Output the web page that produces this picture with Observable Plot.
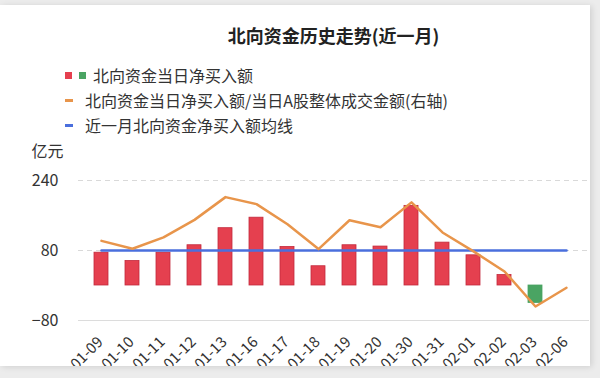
<!DOCTYPE html>
<html>
<head>
<meta charset="utf-8">
<script src="https://cdn.jsdelivr.net/npm/d3@7"></script>
<script src="https://cdn.jsdelivr.net/npm/@observablehq/plot@0.6"></script>
<style>
  html, body { margin: 0; padding: 0; width: 600px; height: 378px; overflow: hidden; background: #ececec; }
  body { font-family: "Noto Sans CJK SC", "Noto Sans", sans-serif; }
  #card { position: absolute; left: 0; top: 5px; width: 590px; height: 361px; background: #fff; overflow: hidden; box-shadow: 2px 1px 6px rgba(0,0,0,0.12); }
  #title { position: absolute; left: 78px; width: 511px; top: 16px; text-align: center; font-size: 18px; font-weight: bold; color: #222; line-height: 28px; }
  .lg { position: absolute; left: 0; height: 22px; line-height: 22px; font-size: 16px; color: #333; white-space: nowrap; }
  .sq { position: absolute; width: 7px; height: 7px; top: 8px; }
  .ln { position: absolute; width: 8px; height: 3px; top: 10px; left: 65px; }
  .tx { position: absolute; top: 0; }
  #chart { position: absolute; left: 0; top: 135px; }
</style>
</head>
<body>
<div id="card">
  <div id="title"></div>
  <div id="legend"></div>
  <div id="chart"></div>
</div>
<script>
// ---- data ----
const dates = ["01-09","01-10","01-11","01-12","01-13","01-16","01-17","01-18","01-19","01-20","01-30","01-31","02-01","02-02","02-03","02-06"];
// 北向资金当日净买入额 (亿元); 02-06 has no bar
const netBuy = [75, 56, 75, 92, 131, 155, 88, 44, 92, 89, 182, 98, 69, 24, -40, null];
// 北向资金当日净买入额/当日A股整体成交金额 (%, right axis, hidden; 6% aligns with 240)
const ratioPct = [2.55, 2.10, 2.75, 3.75, 5.05, 4.65, 3.50, 2.08, 3.73, 3.33, 4.75, 3.03, 1.95, 0.80, -1.20, -0.13];
const rightAxisFactor = 40; // 1% on right axis == 40 亿元 on left axis
// 近一月北向资金净买入额均线
const meanValue = 80;
const yTicks = [-80, 80, 240];
const legendLabels = ["北向资金当日净买入额", "北向资金当日净买入额/当日A股整体成交金额(右轴)", "近一月北向资金净买入额均线"];
const unitLabel = "亿元";
const title = "北向资金历史走势(近一月)";

const red = "#e5404f", redStroke = "#c22a3c", green = "#4aa463", orange = "#e8954b", blue = "#4a6fdd";

document.getElementById("title").textContent = title;

// legend
const legend = document.getElementById("legend");
legend.innerHTML = `
  <div class="lg" style="top:59px;width:400px">
    <div class="sq" style="left:65px;background:${red}"></div>
    <div class="sq" style="left:79px;background:${green}"></div>
    <div class="tx" style="left:93px">${legendLabels[0]}</div>
  </div>
  <div class="lg" style="top:84px;width:500px">
    <div class="ln" style="background:${orange}"></div>
    <div class="tx" style="left:85px">${legendLabels[1]}</div>
  </div>
  <div class="lg" style="top:109px;width:400px">
    <div class="ln" style="background:${blue}"></div>
    <div class="tx" style="left:85px">${legendLabels[2]}</div>
  </div>`;

const bars = dates.map((d, i) => ({date: d, value: netBuy[i]})).filter(d => d.value != null);
const ratio = dates.map((d, i) => ({date: d, v: ratioPct[i] * rightAxisFactor}));
const meanData = dates.map(d => ({date: d, v: meanValue}));

const plot = Plot.plot({
  width: 590,
  height: 240,
  marginLeft: 78,
  marginRight: 1,
  marginTop: 40,
  marginBottom: 60,
  style: {fontFamily: '"Noto Sans CJK SC", "Noto Sans", sans-serif', color: "#333", overflow: "visible", background: "transparent"},
  x: {type: "band", domain: dates, paddingInner: 0.56, paddingOuter: 0.28, axis: null},
  y: {domain: [-80, 240], axis: null},
  marks: [
    Plot.ruleY([240, 80], {stroke: "#d9d9d9", strokeDasharray: "5,4"}),
    Plot.ruleY([-80], {stroke: "#dcdcdc"}),
    Plot.axisY({ticks: yTicks, tickSize: 0, tickPadding: 20, fontSize: 16, fill: "#333", label: null}),
    Plot.text([unitLabel], {frameAnchor: "top-left", textAnchor: "start", lineAnchor: "middle", dx: -47, dy: -29, fontSize: 16, fill: "#333"}),
    Plot.text(dates, {x: d => d, frameAnchor: "bottom", rotate: -45, textAnchor: "end", lineAnchor: "middle", dx: -1, dy: 19, fontSize: 15, fill: "#333"}),
    Plot.barY(bars, {x: "date", y: "value", fill: d => d.value >= 0 ? red : green, stroke: d => d.value >= 0 ? redStroke : green, strokeWidth: 0.8}),
    Plot.lineY(meanData, {x: "date", y: "v", stroke: blue, strokeWidth: 2.5}),
    Plot.lineY(ratio, {x: "date", y: "v", stroke: orange, strokeWidth: 2.5})
  ]
});
document.getElementById("chart").appendChild(plot);
</script>
</body>
</html>
